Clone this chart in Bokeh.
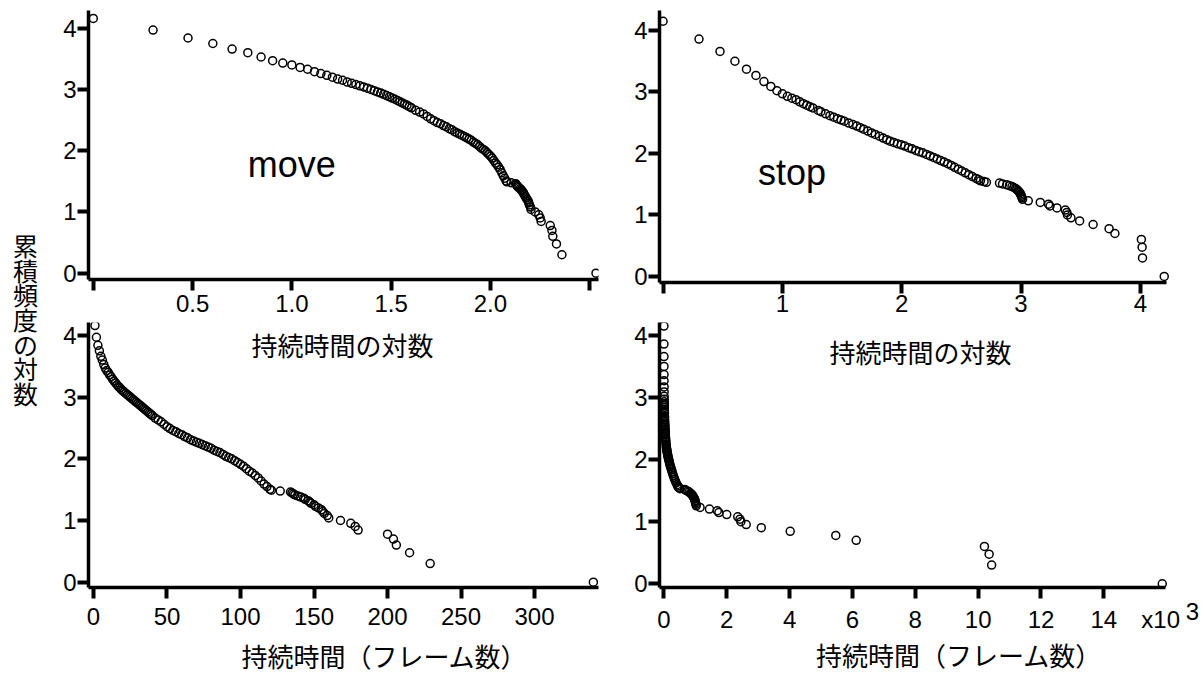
import numpy as np
from bokeh.plotting import figure
from bokeh.models import Range1d, FixedTicker, Label, LinearAxis
from bokeh.layouts import row, column
from bokeh.embed import file_html
from bokeh.resources import INLINE

# ---------------- data (durations in frames, log10 cumulative frequency) ----------------
move_frames = [1, 2, 3, 4, 5, 6, 7, 8, 9, 10,
               11, 12, 13, 14, 15, 16, 17, 18, 19, 20,
               21, 22, 23, 24, 25, 26, 27, 28, 29, 30,
               31, 32, 33, 34, 35, 36, 37, 38, 39, 40,
               42, 44, 46, 48, 50, 52, 54, 56, 58, 60,
               62, 64, 66, 68, 70, 72, 74, 76, 78, 80,
               82, 84, 86, 88, 90, 92, 94, 96, 98, 100,
               102, 104, 106, 108, 110, 112, 114, 116, 118,
               120, 121, 127, 134, 135, 136, 137, 139, 141, 143,
               144, 146, 147, 148, 150, 151, 153, 155, 156, 157,
               159, 160, 168, 175, 178, 180, 200, 204, 206, 215,
               229, 340]
move_logcum = [4.16, 3.97, 3.84, 3.75, 3.66, 3.60, 3.53, 3.47, 3.43, 3.40,
               3.36, 3.33, 3.29, 3.26, 3.23, 3.20, 3.17, 3.15, 3.12, 3.10,
               3.08, 3.06, 3.04, 3.02, 3.00, 2.98, 2.96, 2.94, 2.92, 2.90,
               2.88, 2.86, 2.84, 2.82, 2.80, 2.78, 2.76, 2.74, 2.72, 2.70,
               2.66, 2.63, 2.60, 2.56, 2.52, 2.49, 2.46, 2.44, 2.41, 2.39,
               2.36, 2.34, 2.31, 2.29, 2.27, 2.25, 2.23, 2.21, 2.19, 2.17,
               2.14, 2.12, 2.10, 2.07, 2.04, 2.02, 2.00, 1.97, 1.94, 1.91,
               1.88, 1.84, 1.80, 1.77, 1.73, 1.69, 1.64, 1.59, 1.55,
               1.505, 1.491, 1.477, 1.462, 1.447, 1.431, 1.415, 1.398, 1.380, 1.362,
               1.342, 1.322, 1.301, 1.279, 1.255, 1.230, 1.204, 1.176, 1.146, 1.114,
               1.079, 1.041, 1.000, 0.954, 0.903, 0.845, 0.778, 0.699, 0.602, 0.477,
               0.301, 0.0]

stop_frames = [1, 2, 3, 4, 5, 6, 7, 8, 9, 10,
               11, 12, 13, 14, 15, 16, 17, 18, 20, 21,
               23, 25, 27, 29, 31, 33, 36, 39, 42, 45,
               48, 52, 56, 60, 65, 70, 75, 80, 86, 92,
               99, 106, 114, 122, 131, 140, 150, 161, 173, 185,
               198, 212, 227, 243, 260, 278, 298, 319, 341, 365,
               391, 420, 440, 457, 490, 513,
               660, 700, 760, 800, 840, 870, 900, 920, 940, 960,
               975, 990, 1000, 1010, 1020, 1030, 1150, 1450, 1700, 1750,
               2000, 2350, 2420, 2450, 2620, 3100, 4020, 5470, 6120,
               10200, 10350, 10430, 15860]
stop_logcum = [4.15, 3.86, 3.66, 3.50, 3.37, 3.27, 3.17, 3.09, 3.02, 2.97,
               2.93, 2.90, 2.875, 2.84, 2.81, 2.785, 2.76, 2.74, 2.70, 2.68,
               2.645, 2.615, 2.59, 2.565, 2.545, 2.525, 2.495, 2.47, 2.445, 2.42,
               2.395, 2.365, 2.335, 2.31, 2.28, 2.25, 2.225, 2.20, 2.18, 2.16,
               2.14, 2.12, 2.095, 2.075, 2.05, 2.03, 2.01, 1.985, 1.96, 1.935,
               1.91, 1.885, 1.86, 1.835, 1.805, 1.775, 1.745, 1.715, 1.685, 1.655,
               1.625, 1.595, 1.575, 1.556, 1.544, 1.531,
               1.519, 1.505, 1.491, 1.477, 1.462, 1.447, 1.431, 1.415, 1.398, 1.380,
               1.362, 1.342, 1.322, 1.301, 1.279, 1.255, 1.230, 1.204, 1.176, 1.146,
               1.114, 1.079, 1.041, 1.000, 0.954, 0.903, 0.845, 0.778, 0.699,
               0.602, 0.477, 0.301, 0.0]

y_ticks = [0, 1, 2, 3, 4]
tl_ticks = [0, 0.5, 1, 1.5, 2, 2.5]
tl_tick_text = ["", "0.5", "1.0", "1.5", "2.0", ""]
tr_ticks = [0, 1, 2, 3, 4]
tr_tick_text = ["", "1", "2", "3", "4"]
bl_ticks = [0, 50, 100, 150, 200, 250, 300]
bl_tick_text = ["0", "50", "100", "150", "200", "250", "300"]
br_ticks = [0, 2000, 4000, 6000, 8000, 10000, 12000, 14000]
br_tick_text = ["0", "2", "4", "6", "8", "10", "12", "14"]

y_title = "累積頻度の対数"
log_title = "持続時間の対数"
lin_title = "持続時間（フレーム数）"
tag_move = "move"
tag_stop = "stop"
scale_text = "x10"
scale_exp = "3"

NUM_FONT = "Liberation Sans"
JP_FONT = "Noto Sans CJK JP"


def style_axis(ax, standoff, tick_out=11, font_size="24px"):
    ax.axis_line_width = 3.5
    ax.axis_line_color = "black"
    ax.major_tick_line_width = 4
    ax.major_tick_line_color = "black"
    ax.major_tick_out = tick_out
    ax.major_tick_in = 0
    ax.minor_tick_out = 0
    ax.minor_tick_in = 0
    ax.major_label_text_font = NUM_FONT
    ax.major_label_text_font_size = font_size
    ax.major_label_text_color = "black"
    ax.major_label_standoff = standoff


def label_axis(p, ticks, texts, standoff):
    """Stacked axis below the main one that only carries tick labels."""
    extra = LinearAxis(ticker=FixedTicker(ticks=ticks),
                       major_label_overrides=dict(zip(ticks, texts)))
    style_axis(extra, standoff, tick_out=0)
    extra.axis_line_color = None
    extra.major_tick_line_color = None
    extra.minor_tick_line_color = None
    p.add_layout(extra, "below")


def panel(w, h, borders, xr, yr, ticks, label_ticks, tick_text, x_standoff, x_bounds="auto"):
    left, right, top, bottom = borders
    p = figure(width=w, height=h, x_range=Range1d(*xr), y_range=Range1d(*yr),
               output_backend="svg", toolbar_location=None, title=None,
               min_border_left=left, min_border_right=right,
               min_border_top=top, min_border_bottom=bottom)
    p.outline_line_color = None
    p.xgrid.visible = False
    p.ygrid.visible = False
    p.background_fill_color = "white"
    p.border_fill_color = "white"
    p.xaxis.ticker = FixedTicker(ticks=ticks)
    p.xaxis.major_label_overrides = {t: "" for t in ticks}
    p.xaxis.bounds = x_bounds
    p.yaxis.ticker = FixedTicker(ticks=y_ticks)
    style_axis(p.xaxis[0], 0, font_size="1px")
    style_axis(p.yaxis[0], 1)
    label_axis(p, label_ticks, tick_text, x_standoff)
    return p


def dots(p, x, y):
    p.scatter(x, y, marker="circle", size=8, fill_color=None,
              line_color="black", line_width=1.5)


def jp_label(p, x, y, text, units="screen"):
    p.add_layout(Label(x=x, y=y, x_units=units, y_units=units, text=text,
                       text_font=JP_FONT, text_font_size="26px", text_color="black",
                       text_align="center", text_baseline="middle"))


def tag(p, x, y, text):
    p.add_layout(Label(x=x, y=y, text=text, text_font=NUM_FONT, text_font_size="36px",
                       text_align="center", text_baseline="alphabetic", text_color="black"))


def strip(w, h):
    s = figure(width=w, height=h, x_range=Range1d(0, w), y_range=Range1d(h, 0),
               output_backend="svg", toolbar_location=None, title=None,
               x_axis_location=None, y_axis_location=None, min_border=0)
    s.outline_line_color = None
    s.xgrid.visible = False
    s.ygrid.visible = False
    return s


# top-left: move, log duration
tl = panel(555, 322, (42, 2, 10, 43), (-0.024, 2.544), (-0.103, 4.289),
           tl_ticks, tl_ticks, tl_tick_text, 4)
dots(tl, np.log10(move_frames), move_logcum)
tag(tl, 1.0, 1.775, tag_move)

# top-right: stop, log duration
tr = panel(602, 322, (59, 0, 10, 40), (-0.030, 4.521), (-0.098, 4.325),
           tr_ticks, tr_ticks, tr_tick_text, 1, x_bounds=(-0.030, 4.22))
dots(tr, np.log10(stop_frames), stop_logcum)
tag(tr, 1.08, 1.69, tag_stop)

# bottom-left: move, frames
bl = panel(555, 313, (43, 0, 0, 48), (-3.39, 343.5), (-0.086, 4.209),
           bl_ticks, bl_ticks, bl_tick_text, 9)
dots(bl, move_frames, move_logcum)
jp_label(bl, 254, 243, log_title)
bl_strip = strip(555, 38)
jp_label(bl_strip, 322, 19.5, lin_title, units="data")

# bottom-right: stop, frames
br = panel(602, 313, (57, 0, 0, 48), (-139.5, 17140), (-0.060, 4.208),
           br_ticks, br_ticks + [15809], br_tick_text + [scale_text], 7,
           x_bounds=(-139.5, 15970))
dots(br, stop_frames, stop_logcum)
jp_label(br, 261, 236, log_title)
label_axis(br, [16823], [scale_exp], -33)
br_strip = strip(602, 38)
jp_label(br_strip, 332, 19, lin_title, units="data")

# shared vertical y title
yl = figure(width=45, height=673, x_range=Range1d(0, 45), y_range=Range1d(673, 0),
            output_backend="svg", toolbar_location=None, title=None,
            x_axis_location=None, y_axis_location=None, min_border=0)
yl.outline_line_color = None
yl.xgrid.visible = False
yl.ygrid.visible = False
for i, ch in enumerate(y_title):
    yl.add_layout(Label(x=25, y=244.35 + 24.7 * i, text=ch, text_font=JP_FONT,
                        text_font_size="25px", text_color="black",
                        text_align="center", text_baseline="middle"))

layout = row(yl, column(tl, bl, bl_strip), column(tr, br, br_strip))

with open("out.html", "w") as f:
    f.write(file_html(layout, INLINE))
